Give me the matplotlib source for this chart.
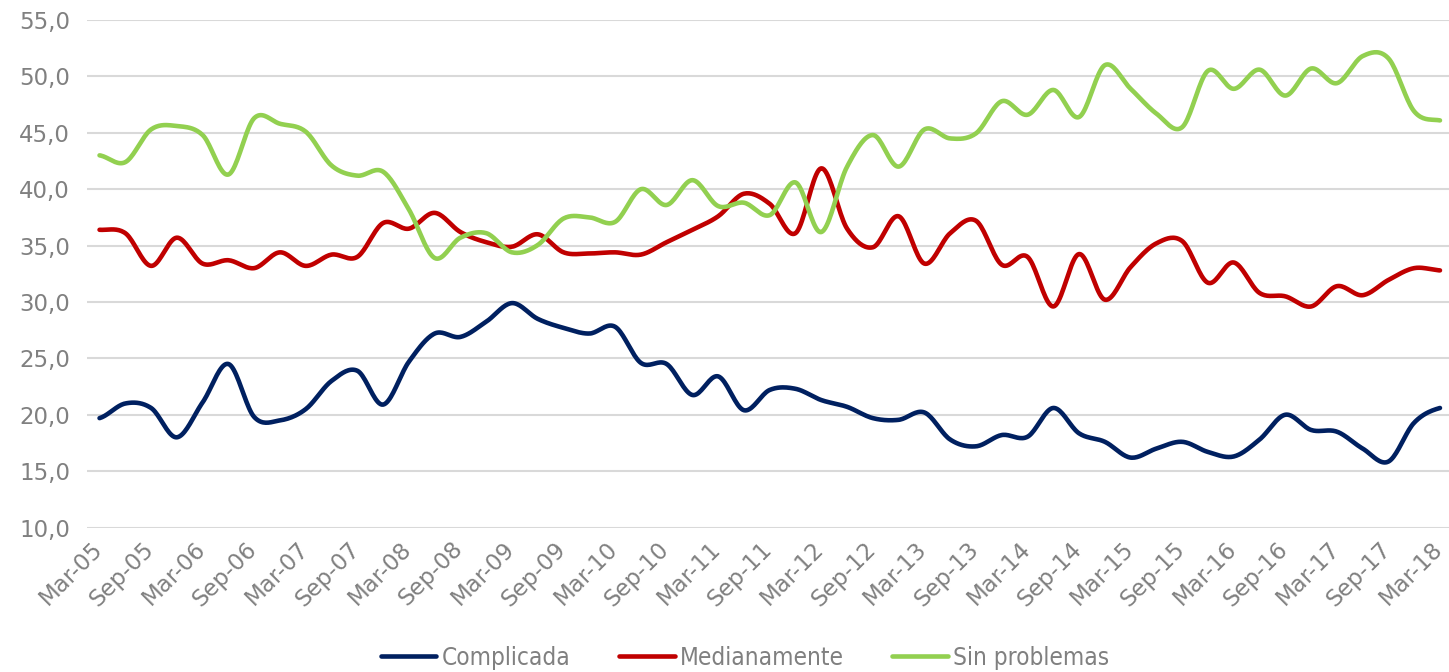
import numpy as np
import matplotlib
matplotlib.use('Agg')
import matplotlib.pyplot as plt
import matplotlib.transforms as mtransforms
from matplotlib import font_manager
from matplotlib.ticker import FixedLocator, FuncFormatter, MultipleLocator

# quarterly series, Mar-05 .. Mar-18 (53 quarters)
complicada = [19.7, 21.0, 20.6, 18.0, 21.1, 24.5, 19.8, 19.5, 20.5, 23.0,
              23.9, 20.9, 24.7, 27.2, 26.9, 28.25, 29.9, 28.5, 27.7, 27.2,
              27.8, 24.6, 24.5, 21.75, 23.4, 20.4, 22.2, 22.3, 21.3, 20.7,
              19.7, 19.55, 20.2, 17.8, 17.2, 18.2, 18.05, 20.6, 18.35, 17.6,
              16.2, 17.0, 17.6, 16.7, 16.3, 17.8, 20.0, 18.65, 18.5, 17.0,
              15.85, 19.3, 20.6]
medianamente = [36.4, 36.1, 33.2, 35.7, 33.4, 33.7, 33.0, 34.4, 33.2, 34.2,
                34.0, 37.0, 36.5, 37.9, 36.2, 35.3, 34.9, 36.0, 34.4, 34.3,
                34.4, 34.2, 35.3, 36.4, 37.6, 39.6, 38.7, 36.1, 41.85, 36.5,
                34.85, 37.6, 33.4, 36.1, 37.2, 33.3, 34.0, 29.6, 34.25, 30.2,
                33.1, 35.2, 35.4, 31.7, 33.5, 30.8, 30.5, 29.6, 31.4, 30.6,
                31.95, 33.0, 32.8]
sin_problemas = [43.0, 42.4, 45.3, 45.6, 44.8, 41.3, 46.3, 45.8, 45.1, 42.1,
                 41.2, 41.55, 38.2, 33.9, 35.7, 36.1, 34.4, 35.05, 37.4, 37.5,
                 37.1, 40.0, 38.6, 40.8, 38.5, 38.8, 37.7, 40.6, 36.2, 42.0,
                 44.8, 42.0, 45.3, 44.5, 44.95, 47.8, 46.6, 48.8, 46.4, 51.0,
                 48.9, 46.7, 45.5, 50.5, 48.9, 50.6, 48.3, 50.7, 49.4, 51.8,
                 51.6, 46.9, 46.1]

tick_labels = ['Mar-05', 'Sep-05', 'Mar-06', 'Sep-06', 'Mar-07', 'Sep-07',
               'Mar-08', 'Sep-08', 'Mar-09', 'Sep-09', 'Mar-10', 'Sep-10',
               'Mar-11', 'Sep-11', 'Mar-12', 'Sep-12', 'Mar-13', 'Sep-13',
               'Mar-14', 'Sep-14', 'Mar-15', 'Sep-15', 'Mar-16', 'Sep-16',
               'Mar-17', 'Sep-17', 'Mar-18']

series = [('Complicada', complicada, '#002060'),
          ('Medianamente', medianamente, '#C00000'),
          ('Sin problemas', sin_problemas, '#92D050')]


def smooth(y, n=20):
    # Catmull-Rom, like Excel's "smoothed line"
    y = np.asarray(y, dtype=float)
    p = np.concatenate([[y[0]], y, [y[-1]]])
    xs, ys = [], []
    t = np.linspace(0, 1, n, endpoint=False)
    for i in range(len(y) - 1):
        p0, p1, p2, p3 = p[i], p[i + 1], p[i + 2], p[i + 3]
        seg = 0.5 * ((2 * p1) + (-p0 + p2) * t +
                     (2 * p0 - 5 * p1 + 4 * p2 - p3) * t ** 2 +
                     (-p0 + 3 * p1 - 3 * p2 + p3) * t ** 3)
        xs.append(i + t)
        ys.append(seg)
    xs.append([len(y) - 1])
    ys.append([y[-1]])
    return np.concatenate(xs), np.concatenate(ys)


# narrow font for the legend if there is one
has_condensed = any('Condensed' in f.name or 'condensed' in str(f.stretch)
                    for f in font_manager.fontManager.ttflist
                    if f.name.startswith('DejaVu Sans'))
if has_condensed:
    legend_font = font_manager.FontProperties(family='DejaVu Sans', stretch='condensed', size=17.5)
else:
    legend_font = font_manager.FontProperties(family='DejaVu Sans', size=16.5)

grey = '#808080'
fig = plt.figure(figsize=(14.49, 6.72), dpi=100)
ax = fig.add_axes([0.0598, 0.215, 0.9402, 0.7552])

for name, vals, col in series:
    sx, sy = smooth(vals)
    ax.plot(sx, sy, color=col, lw=3.3, label=name, solid_capstyle='round', zorder=3)

ax.set_xlim(-0.5, 52.35)
ax.set_ylim(10, 55)
ax.yaxis.set_major_locator(MultipleLocator(5))
ax.yaxis.set_major_formatter(FuncFormatter(lambda v, p: f'{v:.1f}'.replace('.', ',')))
ax.xaxis.set_major_locator(FixedLocator(range(0, 53, 2)))
ax.set_xticklabels(tick_labels, rotation=45, ha='right', rotation_mode='anchor')
ax.grid(axis='y', color='#D9D9D9', lw=1.5, zorder=0)
for s in ax.spines.values():
    s.set_visible(False)
ax.tick_params(axis='y', length=0, pad=12, labelsize=16.5, labelcolor=grey)
ax.tick_params(axis='x', length=0, pad=7, labelsize=16.5, labelcolor=grey)

shift = mtransforms.ScaledTranslation(-9 / 100, 0, fig.dpi_scale_trans)
for lab in ax.get_xticklabels():
    lab.set_transform(lab.get_transform() + shift)

fig.legend(loc='center', bbox_to_anchor=(0.514, 0.021), ncol=3, frameon=False,
           prop=legend_font, labelcolor=grey, handlelength=2.3, handletextpad=0.2,
           columnspacing=2.0)

fig.savefig('out.png', dpi=100)
